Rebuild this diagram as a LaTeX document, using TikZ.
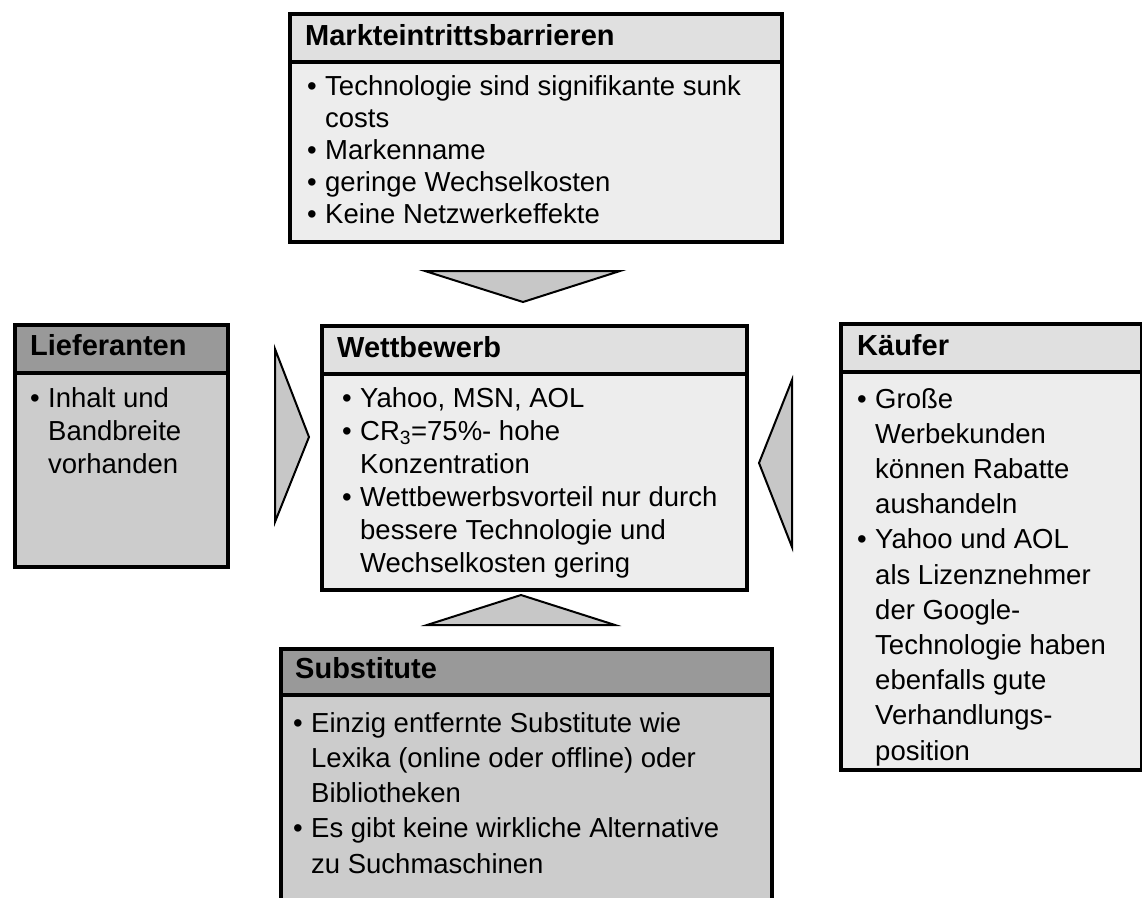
\documentclass[tikz,border=0pt]{standalone}
\usepackage{fontspec}
\setmainfont{Liberation Sans}

\definecolor{hdrlight}{gray}{0.88}
\definecolor{bodylight}{gray}{0.93}
\definecolor{hdrdark}{gray}{0.60}
\definecolor{bodydark}{gray}{0.80}
\definecolor{trifill}{gray}{0.78}

\newcommand{\bl}{\makebox[18pt][l]{\textbullet}}
\newcommand{\hs}{\hspace*{18pt}}

\begin{document}
\begin{tikzpicture}[x=1pt, y=-1pt,
		box/.style={draw, line width=3.5pt, rectangle, inner sep=0pt, anchor=north west},
		ttl/.style={inner sep=0pt, anchor=base west, font=\fontsize{29}{33}\selectfont\bfseries},
		txt/.style={inner sep=0pt, anchor=base west, align=left, font=\fontsize{27.5}{33}\selectfont},
		tri/.style={draw, line width=2pt, fill=trifill, line join=miter}]
		\useasboundingbox (0,0) rectangle (1142,897);
		\clip (0,0) rectangle (1142,897);
		\node[box, fill=bodylight, minimum width=492, minimum height=180] (marktBody) at (288,60) {};
		\node[box, fill=hdrlight, minimum width=492, minimum height=48] (markt) at (288,12) {};
		\node[ttl] (marktTitle) at (305,45) {Markteintrittsbarrieren};
		\node[txt, font=\fontsize{27.5}{32}\selectfont] (marktList) at (307,223) {\bl Technologie sind signifikante sunk\\ \hs costs\\ \bl Markenname\\ \bl geringe Wechselkosten\\ \bl Keine Netzwerkeffekte};

		\node[box, fill=bodydark, minimum width=213, minimum height=194] (liefBody) at (13,371) {};
		\node[box, fill=hdrdark, minimum width=213, minimum height=48] (lief) at (13,323) {};
		\node[ttl] (liefTitle) at (30,355) {Lieferanten};
		\node[txt] (liefList) at (30,473) {\bl Inhalt und\\ \hs Bandbreite\\ \hs vorhanden};

		\node[box, fill=bodylight, minimum width=425, minimum height=216] (wettBody) at (320,372) {};
		\node[box, fill=hdrlight, minimum width=425, minimum height=48] (wett) at (320,324) {};
		\node[ttl] (wettTitle) at (337,357) {Wettbewerb};
		\node[txt] (wettList) at (342,572) {\bl Yahoo, MSN, AOL\\ \bl CR\textsubscript{3}=75\%- hohe\\ \hs Konzentration\\ \bl Wettbewerbsvorteil nur durch\\ \hs bessere Technologie und\\ \hs Wechselkosten gering};

		\node[box, fill=bodylight, minimum width=301, minimum height=398] (kaufBody) at (839,370) {};
		\node[box, fill=hdrlight, minimum width=301, minimum height=48] (kauf) at (839,322) {};
		\node[ttl] (kaufTitle) at (857,355) {Käufer};
		\node[txt, font=\fontsize{27.5}{35.2}\selectfont] (kaufList) at (857,760) {\bl Große\\ \hs Werbekunden\\ \hs können Rabatte\\ \hs aushandeln\\ \bl Yahoo und AOL\\ \hs als Lizenznehmer\\ \hs der Google-\\ \hs Technologie haben\\ \hs ebenfalls gute\\ \hs Verhandlungs-\\ \hs position};

		\node[box, fill=bodydark, minimum width=491, minimum height=240] (substBody) at (279,693) {};
		\node[box, fill=hdrdark, minimum width=491, minimum height=46] (subst) at (279,647) {};
		\node[ttl] (substTitle) at (295,678) {Substitute};
		\node[txt, font=\fontsize{27.5}{35.25}\selectfont] (substList) at (293,873) {\bl Einzig entfernte Substitute wie\\ \hs Lexika (online oder offline) oder\\ \hs Bibliotheken\\ \bl Es gibt keine wirkliche Alternative\\ \hs zu Suchmaschinen};

		\draw[tri] (425,271) -- (620,271) -- (523,302) -- cycle;
		\draw[tri] (427,625) -- (615,625) -- (521,595) -- cycle;
		\draw[tri] (275,349) -- (275,522) -- (309,437) -- cycle;
		\draw[tri] (792,380) -- (792,547) -- (759,463) -- cycle;
\end{tikzpicture}
\end{document}
